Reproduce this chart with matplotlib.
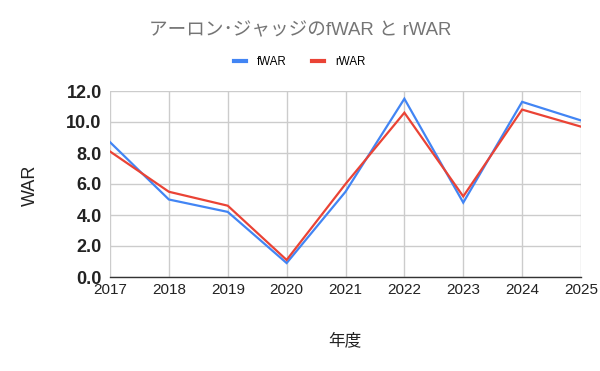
import matplotlib
matplotlib.use("Agg")
import matplotlib.pyplot as plt
from matplotlib.lines import Line2D

plt.rcParams['font.family'] = ['Liberation Sans', 'Noto Sans CJK JP', 'DejaVu Sans']

years = [2017, 2018, 2019, 2020, 2021, 2022, 2023, 2024, 2025]
fwar = [8.7, 5.0, 4.2, 0.9, 5.5, 11.5, 4.8, 11.3, 10.1]
rwar = [8.1, 5.5, 4.6, 1.1, 6.0, 10.6, 5.2, 10.8, 9.7]
yticks = [0.0, 2.0, 4.0, 6.0, 8.0, 10.0, 12.0]

title = "アーロン･ジャッジのfWAR と rWAR"
series_names = ["fWAR", "rWAR"]
colors = ["#4285f4", "#ea4335"]

fig = plt.figure(figsize=(6.0, 3.71), dpi=100)
ax = fig.add_axes([110/600, 1-277/371, (581-110)/600, (277-91)/371])

ax.plot(years, fwar, color=colors[0], lw=1.6, solid_joinstyle='miter', zorder=3)
ax.plot(years, rwar, color=colors[1], lw=1.6, solid_joinstyle='miter', zorder=3)

ax.set_xlim(years[0], years[-1])
ax.set_ylim(0, 12)
ax.set_xticks(years)
ax.set_xticklabels([str(y) for y in years], fontsize=11, color="#222222")
ax.set_yticks(yticks)
ax.set_yticklabels([f"{v:.1f}" for v in yticks], fontsize=13, fontweight='bold', color="#222222")
ax.grid(True, color="#cccccc", lw=1)
ax.set_axisbelow(True)
for s in ['top', 'right', 'left']:
    ax.spines[s].set_visible(False)
ax.spines['bottom'].set_color('#333333')
ax.spines['bottom'].set_linewidth(1)
ax.tick_params(axis='x', length=0, pad=4)
ax.tick_params(axis='y', length=0, pad=6)

fig.text(30/600, 1-185/371, "WAR", rotation=90, ha='center', va='center', fontsize=13, color="#222222")
fig.text(345/600, 1-341/371, "年度", ha='center', va='center', fontsize=12,
         family=['Noto Sans CJK JP', 'DejaVu Sans'], color="#222222")
fig.text(300/600, 1-31/371, title, ha='center', va='center', fontsize=13.4,
         family=['Liberation Sans', 'Noto Sans CJK JP'], color="#757575")

handles = [Line2D([], [], color=c, lw=3) for c in colors]
fig.legend(handles, series_names, loc='center', bbox_to_anchor=(300/600, 1-62/371),
           ncol=2, frameon=False, fontsize=8.3, handlelength=1.0, handletextpad=1.0,
           columnspacing=2.2)

fig.savefig("out.png", dpi=100)
